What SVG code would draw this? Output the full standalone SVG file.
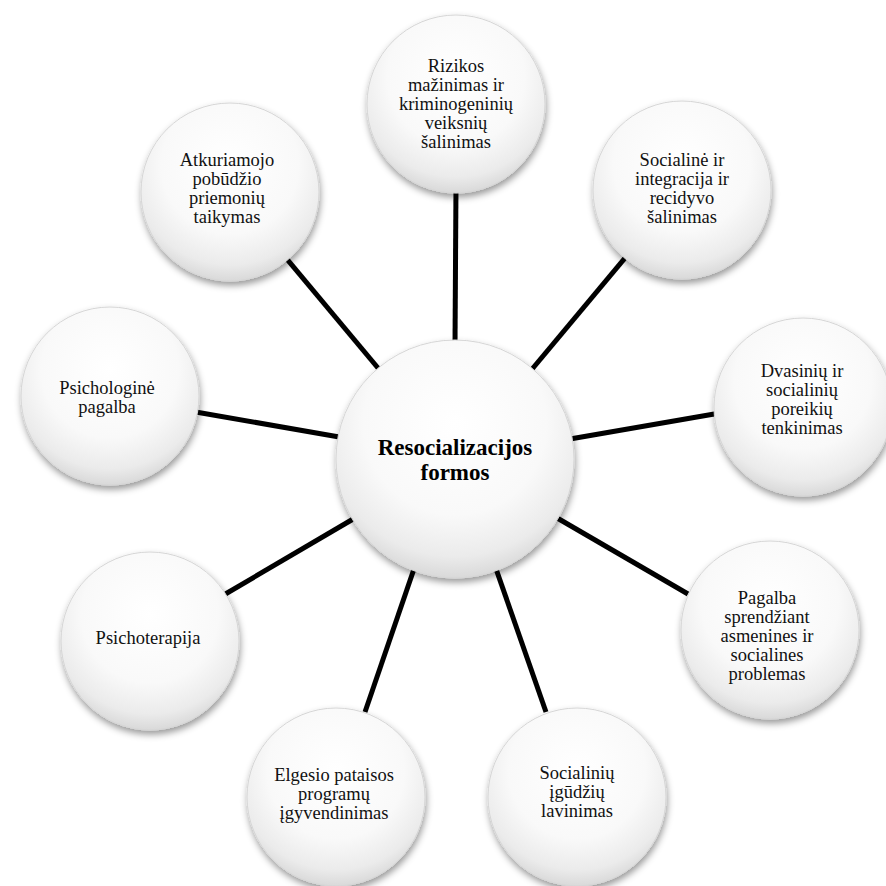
<svg xmlns="http://www.w3.org/2000/svg" width="886" height="886" viewBox="0 0 886 886">
<defs>
<radialGradient id="ball" cx="0.5" cy="0.35" r="0.7">
<stop offset="0" stop-color="#ffffff"/>
<stop offset="0.55" stop-color="#f9f9f9"/>
<stop offset="0.8" stop-color="#ebebeb"/>
<stop offset="1" stop-color="#cfcfcf"/>
</radialGradient>
<filter id="sh" x="-20%" y="-20%" width="140%" height="145%">
<feDropShadow dx="1" dy="4" stdDeviation="3.5" flood-color="#000" flood-opacity="0.4"/>
</filter>
</defs>
<style>
.c{fill:url(#ball);stroke:#d6d6d6;stroke-width:1;filter:url(#sh)}
.t{font-family:"Liberation Serif","Times New Roman",serif;font-size:18.5px;fill:#111;text-anchor:middle}
.b{font-family:"Liberation Serif","Times New Roman",serif;font-size:23px;font-weight:bold;fill:#000;text-anchor:middle}
.ln{stroke:#000;stroke-width:5;fill:none}
</style>
<rect width="886" height="886" fill="#fff"/>
<g id="connectors">
<line class="ln" x1="455" y1="345" x2="456" y2="185"/>
<line class="ln" x1="528" y1="374" x2="630" y2="252"/>
<line class="ln" x1="570" y1="439" x2="720" y2="413"/>
<line class="ln" x1="552" y1="515" x2="688" y2="594"/>
<line class="ln" x1="495" y1="566" x2="546" y2="712"/>
<line class="ln" x1="415" y1="566" x2="365" y2="712"/>
<line class="ln" x1="360" y1="515" x2="222" y2="596"/>
<line class="ln" x1="345" y1="438" x2="190" y2="411"/>
<line class="ln" x1="383" y1="374" x2="281" y2="252"/>
</g>
<g id="center">
<circle class="c" cx="455" cy="459" r="119"/>
<text class="b" x="455" y="455">Resocializacijos</text>
<text class="b" x="455" y="480">formos</text>
</g>
<g id="n1">
<circle class="c" cx="456" cy="104" r="89"/>
<text class="t" x="456" y="72">Rizikos</text>
<text class="t" x="456" y="91">mažinimas ir</text>
<text class="t" x="456" y="110">kriminogeninių</text>
<text class="t" x="456" y="129">veiksnių</text>
<text class="t" x="456" y="148">šalinimas</text>
</g>
<g id="n2">
<circle class="c" cx="682" cy="190" r="89"/>
<text class="t" x="682" y="166">Socialinė ir</text>
<text class="t" x="682" y="185">integracija ir</text>
<text class="t" x="682" y="204">recidyvo</text>
<text class="t" x="682" y="223">šalinimas</text>
</g>
<g id="n3">
<circle class="c" cx="803" cy="407" r="89"/>
<text class="t" x="802" y="377">Dvasinių ir</text>
<text class="t" x="802" y="396">socialinių</text>
<text class="t" x="802" y="415">poreikių</text>
<text class="t" x="802" y="434">tenkinimas</text>
</g>
<g id="n4">
<circle class="c" cx="770" cy="630" r="89"/>
<text class="t" x="767" y="604">Pagalba</text>
<text class="t" x="767" y="623">sprendžiant</text>
<text class="t" x="767" y="642">asmenines ir</text>
<text class="t" x="767" y="661">socialines</text>
<text class="t" x="767" y="680">problemas</text>
</g>
<g id="n5">
<circle class="c" cx="577" cy="797" r="89"/>
<text class="t" x="577" y="779">Socialinių</text>
<text class="t" x="577" y="798">įgūdžių</text>
<text class="t" x="577" y="817">lavinimas</text>
</g>
<g id="n6">
<circle class="c" cx="336" cy="797" r="89"/>
<text class="t" x="334" y="781">Elgesio pataisos</text>
<text class="t" x="334" y="800">programų</text>
<text class="t" x="334" y="819">įgyvendinimas</text>
</g>
<g id="n7">
<circle class="c" cx="150" cy="641" r="89"/>
<text class="t" x="148" y="644">Psichoterapija</text>
</g>
<g id="n8">
<circle class="c" cx="110" cy="396" r="89"/>
<text class="t" x="107" y="394">Psichologinė</text>
<text class="t" x="107" y="413">pagalba</text>
</g>
<g id="n9">
<circle class="c" cx="230" cy="192" r="89"/>
<text class="t" x="227" y="166">Atkuriamojo</text>
<text class="t" x="227" y="185">pobūdžio</text>
<text class="t" x="227" y="204">priemonių</text>
<text class="t" x="227" y="223">taikymas</text>
</g>
</svg>
